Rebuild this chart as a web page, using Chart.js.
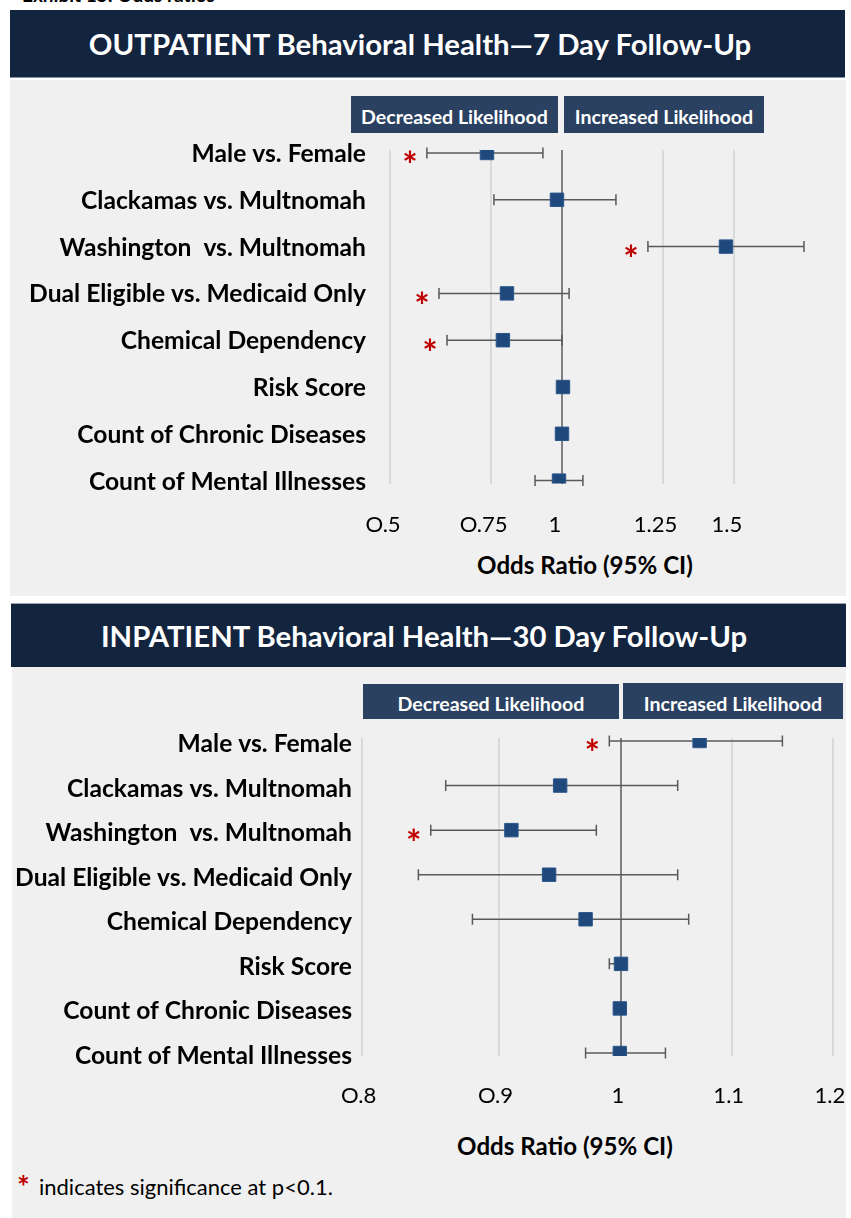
<!DOCTYPE html>
<html>
<head>
<meta charset="utf-8">
<script src="https://cdn.jsdelivr.net/npm/chart.js@4.4.1/dist/chart.umd.min.js"></script>
<style>
  body { margin: 0; background: #fff; font-family: Lato, sans-serif; }
  #page { position: relative; width: 851px; height: 1218px; overflow: hidden; }
  .abs { position: absolute; }
  .head { background: #13243f; color: #fff; font-weight: bold; display: flex; align-items: center; justify-content: center; white-space: nowrap; }
  .panel { background: #f0f0f0; }
  .box { background: #2a4161; color: #fff; font-weight: bold; display: flex; align-items: center; justify-content: center; white-space: nowrap; }
  .txt { white-space: nowrap; color: #000; }
  .ctr { text-align: center; font-weight: bold; }
  canvas { position: absolute; left: 0; }
</style>
</head>
<body>
<div id="page">
  <div class="abs txt" id="exhibit" style="left:22px;top:-17px;font-weight:bold;font-size:19px">Exhibit 15: Odds ratios</div>

  <div class="abs head" id="head1" style="left:10px;top:10px;width:835px;height:68px;padding-right:15px;box-sizing:border-box;border-bottom:1px solid #8391a6">OUTPATIENT Behavioral Health—7 Day Follow-Up</div>
  <div class="abs panel" style="left:10px;top:80px;width:836px;height:516px"></div>
  <div class="abs box lk" style="left:351px;top:96px;width:207px;height:37px;padding-top:3px;box-sizing:border-box">Decreased Likelihood</div>
  <div class="abs box lk" style="left:564px;top:96px;width:200px;height:37px;padding-top:3px;box-sizing:border-box">Increased Likelihood</div>
  <div class="abs txt ctr axt" style="left:435px;top:550px;width:300px;height:30px;line-height:30px">Odds Ratio (95% CI)</div>

  <div class="abs head" id="head2" style="left:11px;top:603px;width:835px;height:64px;padding-right:9px;box-sizing:border-box;border-top:1px solid #9aa3b0">INPATIENT Behavioral Health—30 Day Follow-Up</div>
  <div class="abs panel" style="left:12px;top:667px;width:834px;height:551px"></div>
  <div class="abs box lk" style="left:363px;top:684px;width:256px;height:35px;padding-top:4px;box-sizing:border-box">Decreased Likelihood</div>
  <div class="abs box lk" style="left:623px;top:683px;width:220px;height:36px;padding-top:4px;box-sizing:border-box">Increased Likelihood</div>
  <div class="abs txt ctr axt" style="left:415px;top:1131px;width:300px;height:30px;line-height:30px">Odds Ratio (95% CI)</div>

  <div class="abs txt" style="left:17px;top:1171px;font-weight:bold;font-size:30px;line-height:30px;color:#c00000">*</div>
  <div class="abs txt" id="foot" style="left:39px;top:1174px;height:26px;line-height:26px">indicates significance at p&lt;0.1.</div>

  <canvas id="outChart" width="851" height="517" style="top:79px"></canvas>
  <canvas id="inChart" width="851" height="500" style="top:667px"></canvas>
</div>

<script>
  // factors shared by both panels
  var factors = ['Male vs. Female', 'Clackamas vs. Multnomah', 'Washington  vs. Multnomah',
    'Dual Eligible vs. Medicaid Only', 'Chemical Dependency', 'Risk Score',
    'Count of Chronic Diseases', 'Count of Mental Illnesses'];

  // OUTPATIENT 7 day follow-up
  var outOR  = [0.739, 0.980, 1.937, 0.801, 0.788, 1.004, 1.000, 0.988];
  var outLow = [0.580, 0.760, 1.414, 0.609, 0.629, 0.998, 0.996, 0.897];
  var outHigh = [0.926, 1.243, 2.653, 1.029, 1.000, 1.010, 1.004, 1.088];
  var outSig = [true, false, true, true, true, false, false, false];
  var outTicks = [0.5, 0.75, 1, 1.5, 2];
  var outTickLabels = ['O.5', 'O.75', '1', '1.25', '1.5'];

  // INPATIENT 30 day follow-up
  var inOR  = [1.070, 0.949, 0.910, 0.940, 0.970, 1.000, 0.999, 0.999];
  var inLow = [0.990, 0.860, 0.849, 0.840, 0.880, 0.990, 0.997, 0.970];
  var inHigh = [1.149, 1.050, 0.979, 1.050, 1.060, 1.004, 1.001, 1.039];
  var inSig = [true, false, true, false, false, false, false, false];
  var inTicks = [0.8, 0.9, 1, 1.1, 1.2];
  var inTickLabels = ['O.8', 'O.9', '1', '1.1', '1.2'];

  var meas = document.createElement('canvas').getContext('2d');
  function fit(text, weight, width) {
    meas.font = weight + ' 100px Lato';
    return 100 * width / meas.measureText(text).width;
  }

  var forestPlugin = {
    id: 'forest',
    beforeDatasetsDraw: function (chart, args, opts) {
      var ctx = chart.ctx, x = chart.scales.x, y = chart.scales.y;
      ctx.save();
      ctx.strokeStyle = '#595959';
      ctx.lineWidth = 1.5;
      opts.lo.forEach(function (lo, i) {
        var x0 = x.getPixelForValue(lo), x1 = x.getPixelForValue(opts.hi[i]), yy = y.getPixelForValue(i);
        ctx.beginPath();
        ctx.moveTo(x0, yy); ctx.lineTo(x1, yy);
        ctx.moveTo(x0, yy - 5.5); ctx.lineTo(x0, yy + 5.5);
        ctx.moveTo(x1, yy - 5.5); ctx.lineTo(x1, yy + 5.5);
        ctx.stroke();
      });
      ctx.restore();
    },
    afterDatasetsDraw: function (chart, args, opts) {
      var ctx = chart.ctx, x = chart.scales.x, y = chart.scales.y;
      ctx.save();
      ctx.font = 'bold 100px Lato';
      var m0 = ctx.measureText('*');
      var size = 100 * 12 / (m0.actualBoundingBoxRight + m0.actualBoundingBoxLeft);
      ctx.font = 'bold ' + size + 'px Lato';
      ctx.fillStyle = '#c00000';
      ctx.textAlign = 'center';
      ctx.textBaseline = 'alphabetic';
      var m = ctx.measureText('*');
      opts.sig.forEach(function (s, i) {
        if (!s) return;
        var cx = x.getPixelForValue(opts.lo[i]) - 17;
        var cy = y.getPixelForValue(i) + 4;
        ctx.fillText('*', cx, cy + (m.actualBoundingBoxAscent - m.actualBoundingBoxDescent) / 2);
      });
      ctx.restore();
    }
  };

  function forest(id, cfg) {
    return new Chart(document.getElementById(id), {
      type: 'scatter',
      data: {
        datasets: [{
          data: cfg.est.map(function (v, i) { return { x: v, y: i }; }),
          pointStyle: 'rect',
          pointRadius: 9.5,
          backgroundColor: '#1f497d',
          borderColor: '#2b568c',
          borderWidth: 1
        }]
      },
      options: {
        responsive: false,
        animation: false,
        layout: { autoPadding: false, padding: { left: 0, right: 851 - cfg.right, top: cfg.top, bottom: 0 } },
        plugins: {
          legend: { display: false },
          tooltip: { enabled: false },
          forest: { lo: cfg.lo, hi: cfg.hi, sig: cfg.sig }
        },
        scales: {
          x: {
            type: 'logarithmic',
            min: cfg.min,
            max: cfg.max,
            afterBuildTicks: function (s) { s.ticks = cfg.ticks.map(function (v) { return { value: v }; }); },
            afterFit: function (s) {
              s.height = cfg.axisH;
              s.paddingLeft = 0; s.paddingRight = 0;
            },
            grid: {
              color: function (c) { return c.tick && c.tick.value === 1 ? '#808080' : '#d9d9d9'; },
              lineWidth: 2,
              drawTicks: false
            },
            border: { display: false },
            ticks: {
              callback: function (v, i) { return cfg.tickLabels[i]; },
              font: { family: 'Lato', size: cfg.tickSize },
              color: '#000',
              padding: cfg.tickPad,
              labelOffset: cfg.tickShift,
              maxRotation: 0,
              autoSkip: false
            }
          },
          y: {
            type: 'linear',
            reverse: true,
            min: cfg.ymin,
            max: cfg.ymax,
            afterBuildTicks: function (s) { s.ticks = factors.map(function (f, i) { return { value: i }; }); },
            afterFit: function (s) {
              s.width = cfg.left;
              s.paddingTop = 0; s.paddingBottom = 0;
            },
            grid: { display: false, drawTicks: false },
            border: { display: false },
            ticks: {
              callback: function (v) { return factors[v]; },
              font: { family: 'Lato', size: cfg.labelSize, weight: 'bold' },
              color: '#000',
              padding: cfg.left - cfg.labelRight,
              labelOffset: cfg.labelShift,
              autoSkip: false
            }
          }
        }
      },
      plugins: [forestPlugin]
    });
  }

  function build() {
    var labelSize = fit('Dual Eligible vs. Medicaid Only', 'bold', 337);
    var tickSize = fit('O.75', 'normal', 48);
    document.getElementById('head1').style.fontSize = fit('OUTPATIENT Behavioral Health—7 Day Follow-Up', 'bold', 664) + 'px';
    document.getElementById('head2').style.fontSize = fit('INPATIENT Behavioral Health—30 Day Follow-Up', 'bold', 648) + 'px';
    document.querySelectorAll('.lk').forEach(function (el) { el.style.fontSize = fit('Decreased Likelihood', 'bold', 187) + 'px'; });
    document.querySelectorAll('.axt').forEach(function (el) { el.style.fontSize = fit('Odds Ratio (95% CI)', 'bold', 216) + 'px'; });
    document.getElementById('foot').style.fontSize = fit('indicates significance at p<0.1.', 'normal', 294) + 'px';

    forest('outChart', {
      est: outOR, lo: outLow, hi: outHigh, sig: outSig,
      ticks: outTicks, tickLabels: outTickLabels,
      min: 0.4724, max: 2.830, left: 376, right: 820, top: 71, axisH: 112.4,
      ymin: -0.064, ymax: 7.064, labelRight: 366, labelShift: 1,
      labelSize: labelSize, tickSize: tickSize, tickPad: 28, tickShift: -7
    });
    forest('inChart', {
      est: inOR, lo: inLow, hi: inHigh, sig: inSig,
      ticks: inTicks, tickLabels: inTickLabels,
      min: 0.7961, max: 1.2126, left: 356, right: 845, top: 71, axisH: 111,
      ymin: -0.067, ymax: 7.067, labelRight: 352, labelShift: 3,
      labelSize: labelSize, tickSize: tickSize, tickPad: 27, tickShift: -3
    });
  }

  Promise.all([document.fonts.load('bold 20px Lato'), document.fonts.load('20px Lato')]).then(build, build);
</script>
</body>
</html>
